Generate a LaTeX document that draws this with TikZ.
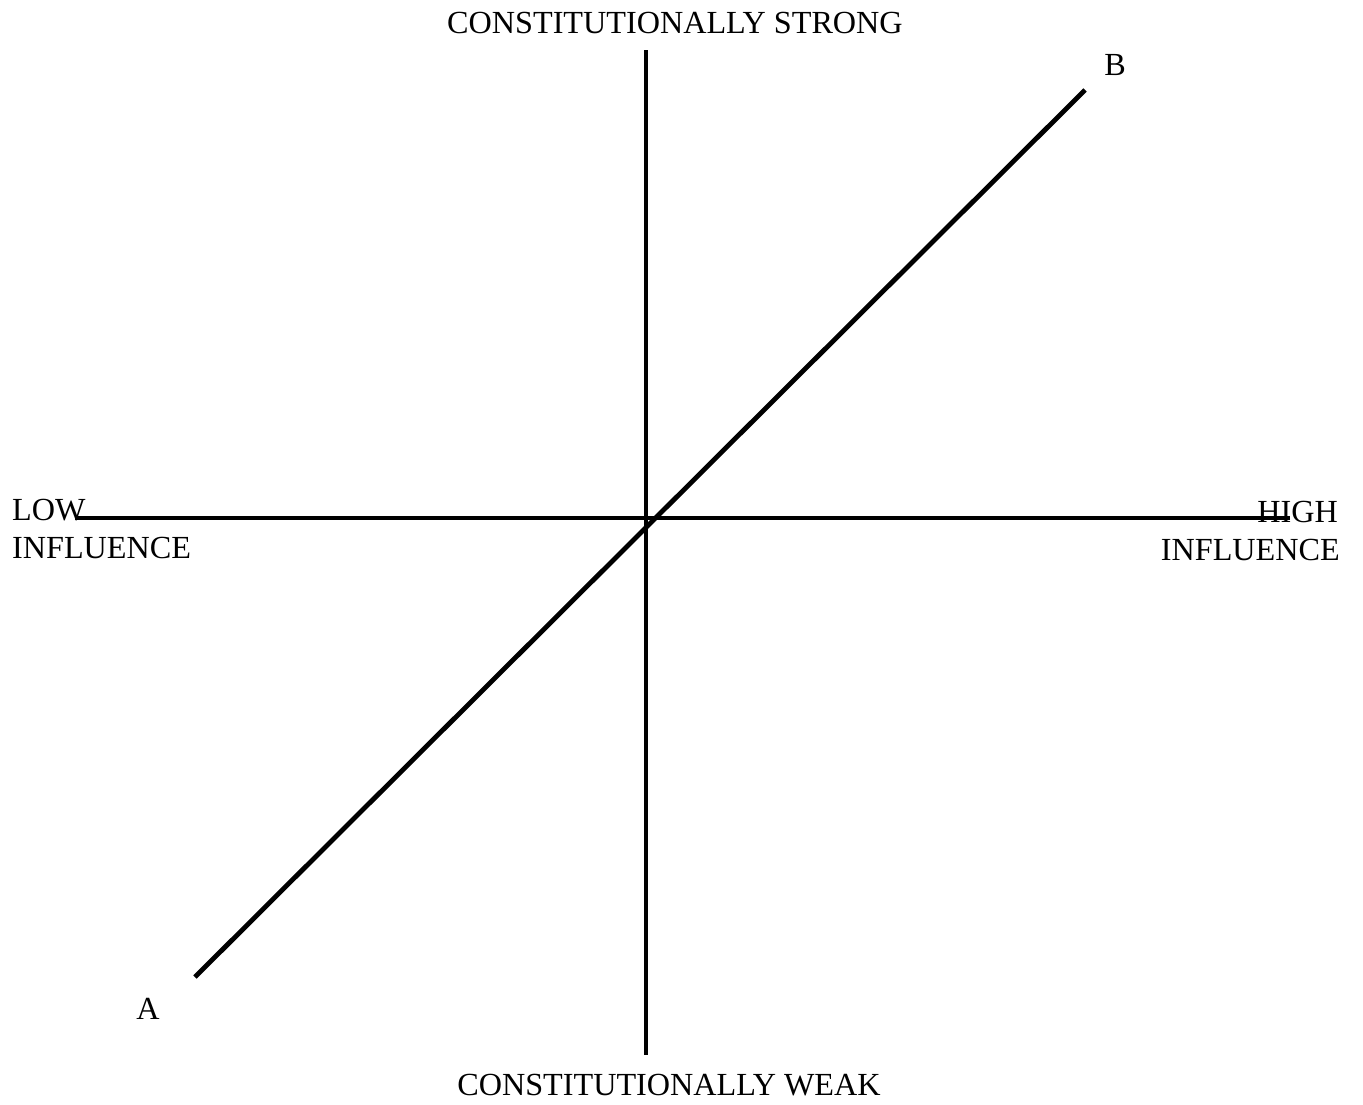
\documentclass[tikz,border=0pt]{standalone}
\usepackage{fontspec}
\setmainfont{Liberation Serif}
\begin{document}
\begin{tikzpicture}[x=1pt,y=-1pt,
  axis/.style={line width=4.8pt},
  lbl/.style={inner sep=0pt,font=\fontsize{32.2}{37}\selectfont}]
\useasboundingbox (0,0) rectangle (1363,1104);
% axes
\coordinate (vt) at (646,50);
\coordinate (vb) at (646,1055);
\coordinate (hl) at (75,518);
\coordinate (hr) at (1290,518);
\coordinate (da) at (195,977);
\coordinate (db) at (1085,90);
\draw[axis] (vt) -- (vb);
\draw[axis] (hl) -- (hr);
\draw[axis] (da) -- (db);
% labels
\node[lbl,anchor=base] (strong) at (675,33) {CONSTITUTIONALLY STRONG};
\node[lbl,anchor=base] (weak) at (669,1095) {CONSTITUTIONALLY WEAK};
\node[lbl,anchor=base west] (low) at (12,520) {LOW};
\node[lbl,anchor=base west] (lowinf) at (12,558) {INFLUENCE};
\node[lbl,anchor=base east] (high) at (1338,522) {HIGH};
\node[lbl,anchor=base east] (highinf) at (1340,560) {INFLUENCE};
\node[lbl,anchor=base] (B) at (1115,75) {B};
\node[lbl,anchor=base] (A) at (148,1019) {A};
\end{tikzpicture}
\end{document}
